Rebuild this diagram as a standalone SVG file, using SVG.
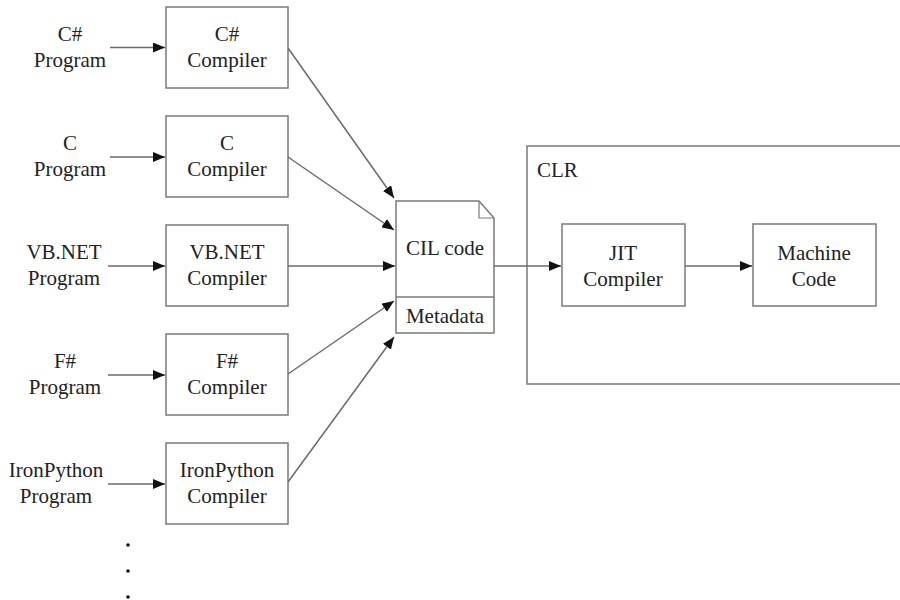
<svg xmlns="http://www.w3.org/2000/svg" width="900" height="600" viewBox="0 0 900 600">
<style>
  .box { fill: #ffffff; stroke: #7a7a7a; stroke-width: 1.5; }
  .t { font-family: 'Liberation Serif', 'DejaVu Serif', serif; font-size: 21px; fill: #222; text-anchor: middle; }
  .tl { font-family: 'Liberation Serif', 'DejaVu Serif', serif; font-size: 21px; fill: #222; }
  .conn { stroke: #6a6a6a; stroke-width: 1.5; fill: none; marker-end: url(#arr); }
</style>
<defs>
  <marker id="arr" viewBox="0 0 12 10" refX="12" refY="5" markerWidth="12" markerHeight="10" markerUnits="userSpaceOnUse" orient="auto">
    <path d="M0,0 L12,5 L0,10 Z" fill="#111"/>
  </marker>
</defs>
<rect width="900" height="600" fill="#ffffff"/>

<g id="clr">
  <path d="M900,146 L527,146 L527,384 L900,384" class="box" fill="none"/>
  <text class="tl" x="537" y="177">CLR</text>
</g>

<g id="csharp-program">
  <text class="t" x="70" y="41">C#</text>
  <text class="t" x="70" y="67">Program</text>
</g>
<g id="csharp-compiler">
  <rect class="box" x="166" y="7" width="122" height="81"/>
  <text class="t" x="227" y="41">C#</text>
  <text class="t" x="227" y="67">Compiler</text>
</g>

<g id="c-program">
  <text class="t" x="70" y="150">C</text>
  <text class="t" x="70" y="176">Program</text>
</g>
<g id="c-compiler">
  <rect class="box" x="166" y="116" width="122" height="81"/>
  <text class="t" x="227" y="150">C</text>
  <text class="t" x="227" y="176">Compiler</text>
</g>

<g id="vbnet-program">
  <text class="t" x="64" y="259">VB.NET</text>
  <text class="t" x="64" y="285">Program</text>
</g>
<g id="vbnet-compiler">
  <rect class="box" x="166" y="225" width="122" height="81"/>
  <text class="t" x="227" y="259">VB.NET</text>
  <text class="t" x="227" y="285">Compiler</text>
</g>

<g id="fsharp-program">
  <text class="t" x="65" y="368">F#</text>
  <text class="t" x="65" y="394">Program</text>
</g>
<g id="fsharp-compiler">
  <rect class="box" x="166" y="334" width="122" height="81"/>
  <text class="t" x="227" y="368">F#</text>
  <text class="t" x="227" y="394">Compiler</text>
</g>

<g id="ironpython-program">
  <text class="t" x="56" y="477">IronPython</text>
  <text class="t" x="56" y="503">Program</text>
</g>
<g id="ironpython-compiler">
  <rect class="box" x="166" y="443" width="122" height="81"/>
  <text class="t" x="227" y="477">IronPython</text>
  <text class="t" x="227" y="503">Compiler</text>
</g>

<g id="ellipsis" fill="#111">
  <circle cx="128" cy="545" r="1.8"/>
  <circle cx="128" cy="571" r="1.8"/>
  <circle cx="128" cy="597" r="1.8"/>
</g>

<g id="cil">
  <path class="box" d="M396,201 L479,201 L494,218 L494,333 L396,333 Z"/>
  <path d="M479,201 L479,218 L494,218" fill="none" stroke="#7a7a7a" stroke-width="1.2"/>
  <line x1="396" y1="297" x2="494" y2="297" stroke="#7a7a7a" stroke-width="1.5"/>
  <text class="t" x="445" y="255">CIL code</text>
  <text class="t" x="445" y="323">Metadata</text>
</g>

<g id="jit-compiler">
  <rect class="box" x="562" y="224" width="123" height="82"/>
  <text class="t" x="623" y="260">JIT</text>
  <text class="t" x="623" y="286">Compiler</text>
</g>

<g id="machine-code">
  <rect class="box" x="753" y="224" width="123" height="82"/>
  <text class="t" x="814" y="260">Machine</text>
  <text class="t" x="814" y="286">Code</text>
</g>

<g id="connectors">
  <line class="conn" x1="110" y1="47.5" x2="165" y2="47.5"/>
  <line class="conn" x1="110" y1="157" x2="165" y2="157"/>
  <line class="conn" x1="108" y1="266" x2="165" y2="266"/>
  <line class="conn" x1="108" y1="375" x2="165" y2="375"/>
  <line class="conn" x1="108" y1="484" x2="165" y2="484"/>
  <line class="conn" x1="288" y1="48" x2="394" y2="198"/>
  <line class="conn" x1="288" y1="157" x2="394" y2="230"/>
  <line class="conn" x1="288" y1="266" x2="395" y2="266"/>
  <line class="conn" x1="288" y1="374" x2="394" y2="301"/>
  <line class="conn" x1="288" y1="482" x2="394" y2="337"/>
  <line class="conn" x1="494" y1="266" x2="561" y2="266"/>
  <line class="conn" x1="685" y1="266" x2="752" y2="266"/>
</g>
</svg>
